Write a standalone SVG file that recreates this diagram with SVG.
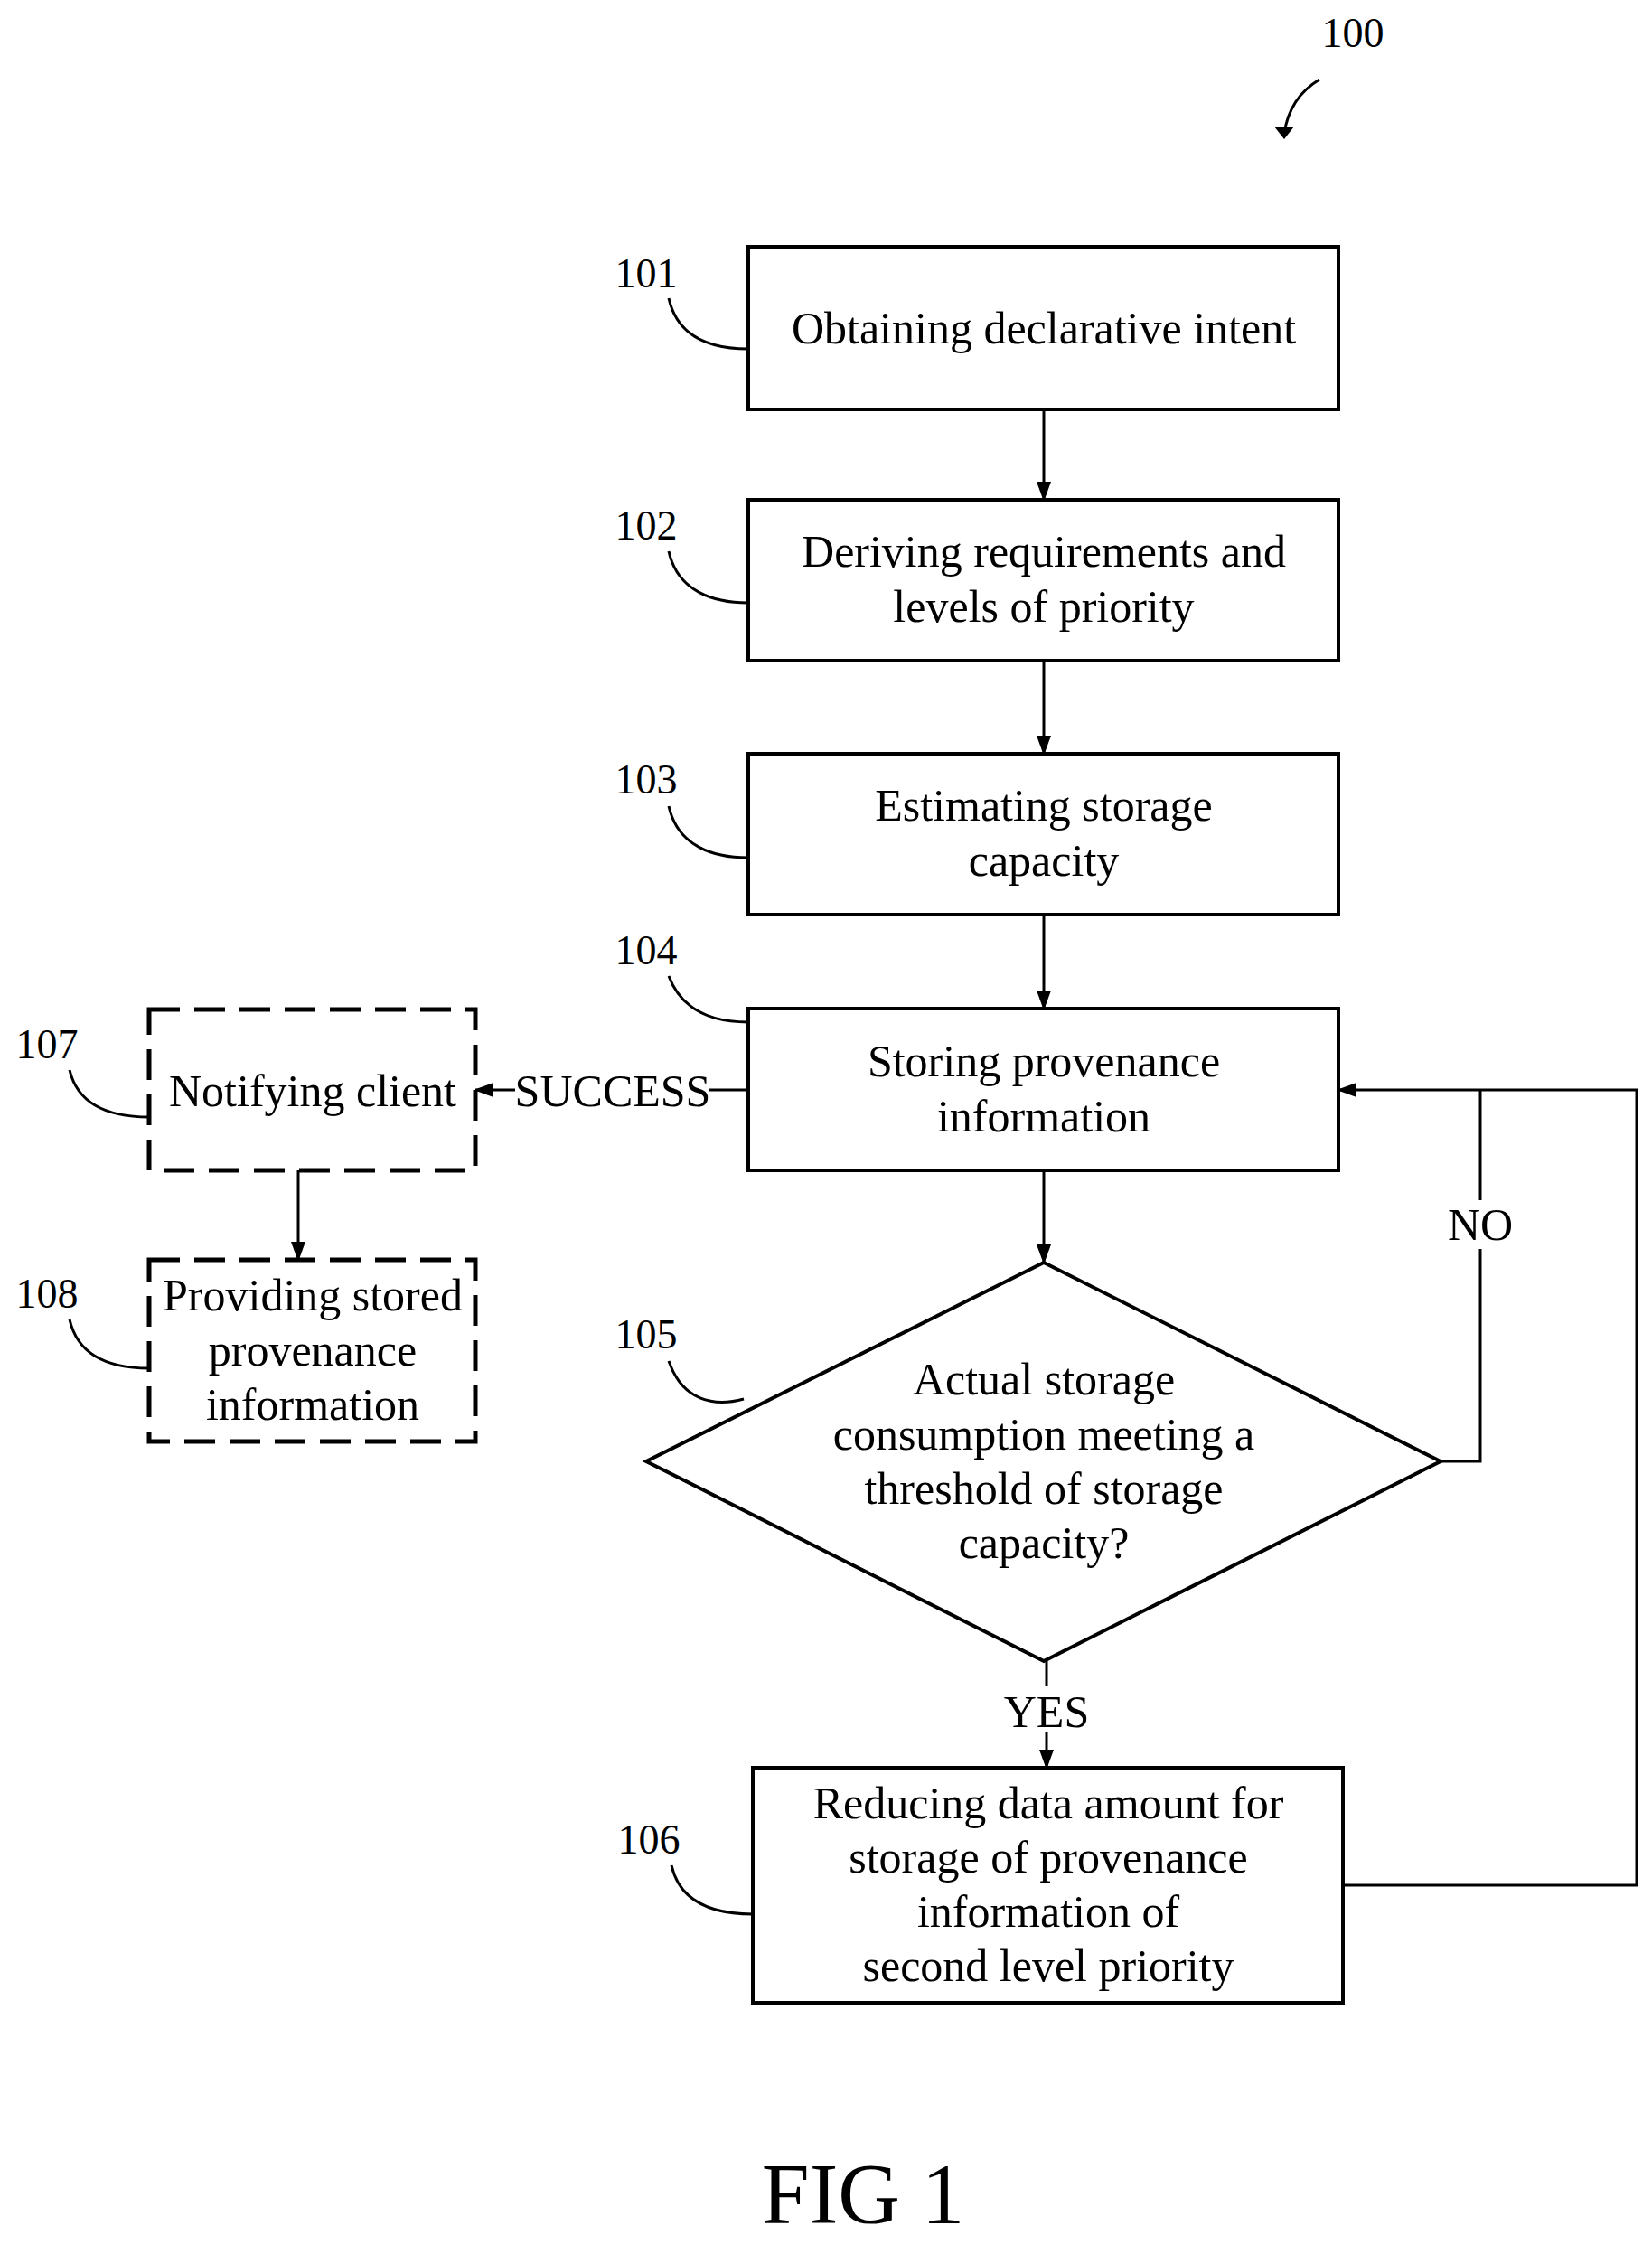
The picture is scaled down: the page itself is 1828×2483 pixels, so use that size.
<svg xmlns="http://www.w3.org/2000/svg" width="1828" height="2483" viewBox="0 0 1828 2483">
<style>
text{font-family:"Liberation Serif",serif;fill:#000}
.t{font-size:50px;text-anchor:middle}
.l{font-size:46px;text-anchor:middle}
.b{fill:#fff;stroke:#000;stroke-width:4}
.d{fill:#fff;stroke:#000;stroke-width:5;stroke-dasharray:34,16}
.c{fill:none;stroke:#000;stroke-width:3}
</style>
<defs><marker id="a" markerWidth="10" markerHeight="10" refX="9" refY="5" orient="auto" markerUnits="userSpaceOnUse" viewBox="0 0 10 10"><path d="M0,0L10,5L0,10z"/></marker>
<marker id="ah" markerWidth="22" markerHeight="22" refX="20" refY="11" orient="auto" markerUnits="userSpaceOnUse"><path d="M0,3L22,11L0,19z"/></marker></defs>
<g id="connectors">
<path class="c" d="M1155,453V553" marker-end="url(#ah)"/>
<path class="c" d="M1155,731V834" marker-end="url(#ah)"/>
<path class="c" d="M1155,1012V1116" marker-end="url(#ah)"/>
<path class="c" d="M1155,1295V1397" marker-end="url(#ah)"/>
<path class="c" d="M1158,1838V1956" marker-end="url(#ah)"/>
<path class="c" d="M1486,2086H1811V1206H1481" marker-end="url(#ah)"/>
<path class="c" d="M1594,1617H1638V1206"/>
<path class="c" d="M828,1206H785"/>
<path class="c" d="M570,1206H526" marker-end="url(#ah)"/>
<path class="c" d="M330,1295V1394" marker-end="url(#ah)"/>
<rect x="1593" y="1328" width="90" height="54" fill="#fff"/>
<text class="t" x="1638" y="1372">NO</text>
<rect x="1114" y="1866" width="88" height="50" fill="#fff"/>
<text class="t" x="1158" y="1911">YES</text>
<text class="t" x="678" y="1224">SUCCESS</text>
</g>
<g id="n101"><rect class="b" x="828" y="273" width="653" height="180"/><text class="t" x="1155" y="380">Obtaining declarative intent</text></g>
<g id="n102"><rect class="b" x="828" y="553" width="653" height="178"/><text class="t" x="1155" y="627">Deriving requirements and</text><text class="t" x="1155" y="688">levels of priority</text></g>
<g id="n103"><rect class="b" x="828" y="834" width="653" height="178"/><text class="t" x="1155" y="908">Estimating storage</text><text class="t" x="1155" y="969">capacity</text></g>
<g id="n104"><rect class="b" x="828" y="1116" width="653" height="179"/><text class="t" x="1155" y="1191">Storing provenance</text><text class="t" x="1155" y="1252">information</text></g>
<g id="n105"><path class="b" d="M1155,1397L1594,1617L1155,1838L715,1617Z"/><text class="t" x="1155" y="1543">Actual storage</text><text class="t" x="1155" y="1604">consumption meeting a</text><text class="t" x="1155" y="1664">threshold of storage</text><text class="t" x="1155" y="1724">capacity?</text></g>
<g id="n106"><rect class="b" x="833" y="1956" width="653" height="260"/><text class="t" x="1160" y="2012">Reducing data amount for</text><text class="t" x="1160" y="2072">storage of provenance</text><text class="t" x="1160" y="2132">information of</text><text class="t" x="1160" y="2192">second level priority</text></g>
<g id="n107"><rect class="d" x="165" y="1117" width="361" height="178"/><text class="t" x="346" y="1224">Notifying client</text></g>
<g id="n108"><rect class="d" x="165" y="1394" width="361" height="201"/><text class="t" x="346" y="1450">Providing stored</text><text class="t" x="346" y="1511">provenance</text><text class="t" x="346" y="1571">information</text></g>
<g id="labels">
<text class="l" x="1497" y="52">100</text>
<path class="c" d="M1460,88C1440,100 1425,120 1421,148"/>
<path d="M1410,140L1421,154L1432,140z"/>
<text class="l" x="715" y="318">101</text><path class="c" d="M740,330C750,375 790,386 828,386"/>
<text class="l" x="715" y="597">102</text><path class="c" d="M740,610C750,655 790,667 828,667"/>
<text class="l" x="715" y="878">103</text><path class="c" d="M740,892C750,937 790,949 828,949"/>
<text class="l" x="715" y="1067">104</text><path class="c" d="M740,1080C755,1120 790,1131 828,1131"/>
<text class="l" x="715" y="1492">105</text><path class="c" d="M740,1506C755,1550 790,1557 823,1548"/>
<text class="l" x="718" y="2051">106</text><path class="c" d="M743,2064C753,2108 793,2118 833,2118"/>
<text class="l" x="52" y="1171">107</text><path class="c" d="M77,1184C87,1226 127,1236 165,1236"/>
<text class="l" x="52" y="1447">108</text><path class="c" d="M77,1460C87,1504 127,1514 165,1514"/>
</g>
<text x="955" y="2460" style="font-size:95px;text-anchor:middle">FIG 1</text>
</svg>
